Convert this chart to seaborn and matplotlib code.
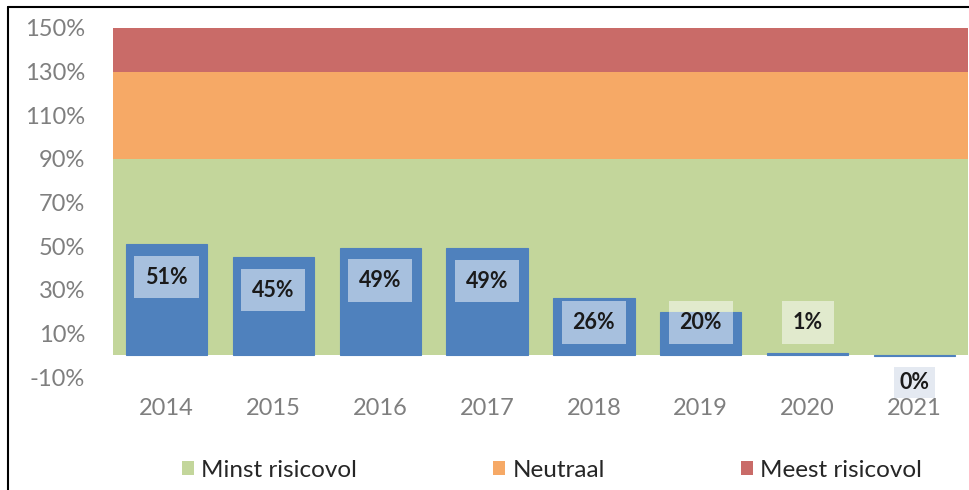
import matplotlib.pyplot as plt
import pandas as pd
import seaborn as sns

# data
years = ["2014", "2015", "2016", "2017", "2018", "2019", "2020", "2021"]
values = [50.8, 44.8, 49.2, 49.0, 26.0, 19.8, 1.0, -0.6]
labels = ["51%", "45%", "49%", "49%", "26%", "20%", "1%", "0%"]

band_names = ["Minst risicovol", "Neutraal", "Meest risicovol"]
band_bottoms = [0, 90, 130]
band_tops = [90, 130, 150]
band_colors = ["#c3d69b", "#f6a966", "#c96b68"]

y_ticks = [-10, 10, 30, 50, 70, 90, 110, 130, 150]

sns.set_style("white")
plt.rcParams["font.family"] = ["Lato", "DejaVu Sans"]

df = pd.DataFrame({"year": years, "value": values})

fig = plt.figure(figsize=(9.7, 4.9), dpi=100)
ax = fig.add_axes([113 / 970, 1 - 377 / 490, 855 / 970, 349 / 490])

# risk bands behind the bars
for name, lo, hi, col in zip(band_names, band_bottoms, band_tops, band_colors):
    ax.axhspan(lo, hi, color=col, zorder=0, label=name, lw=0)

sns.barplot(data=df, x="year", y="value", color="#4f81bd", width=0.76,
            saturation=1, ax=ax, zorder=2, edgecolor="#4f81bd", linewidth=0.8)

# data labels with semi-transparent boxes
for i, (v, lab) in enumerate(zip(values, labels)):
    if v > 0:
        y = max(v - 15, 15)
        box = dict(boxstyle="square,pad=0.5", facecolor="white", alpha=0.5,
                   edgecolor="none")
    else:
        y = -12.5
        box = dict(boxstyle="square,pad=0.25", facecolor="#e4e9f1",
                   edgecolor="none")
    ax.text(i, y, lab, ha="center", va="center", fontsize=15.5, fontweight="bold",
            color="#1a1a1a", zorder=4, bbox=box)

ax.set_ylim(-10, 150)
ax.set_xlim(-0.5, 7.5)
ax.set_yticks(y_ticks)
ax.set_yticklabels([f"{t}%" for t in y_ticks])
ax.set_xlabel("")
ax.set_ylabel("")
ax.tick_params(axis="y", length=0, pad=20, labelsize=17, labelcolor="#7f7f7f")
ax.tick_params(axis="x", length=0, pad=15, labelsize=17, labelcolor="#7f7f7f")
for s in ax.spines.values():
    s.set_visible(False)
if ax.get_legend() is not None:
    ax.get_legend().remove()

handles, names = ax.get_legend_handles_labels()
fig.legend(handles[:3], names[:3], loc="center", bbox_to_anchor=(0.569, 1 - 470 / 490),
           ncol=3, frameon=False, fontsize=17.5, handlelength=0.5, handleheight=0.5,
           handletextpad=0.3, columnspacing=5.6, labelcolor="#262626")

# frame lines of the cropped screenshot
fig.add_artist(plt.Line2D([8 / 970, 8 / 970], [0, 1 - 7 / 490],
                          transform=fig.transFigure, color="black", lw=1.5))
fig.add_artist(plt.Line2D([8 / 970, 1], [1 - 7 / 490, 1 - 7 / 490],
                          transform=fig.transFigure, color="black", lw=1.5))

fig.savefig("out.png", dpi=100)
